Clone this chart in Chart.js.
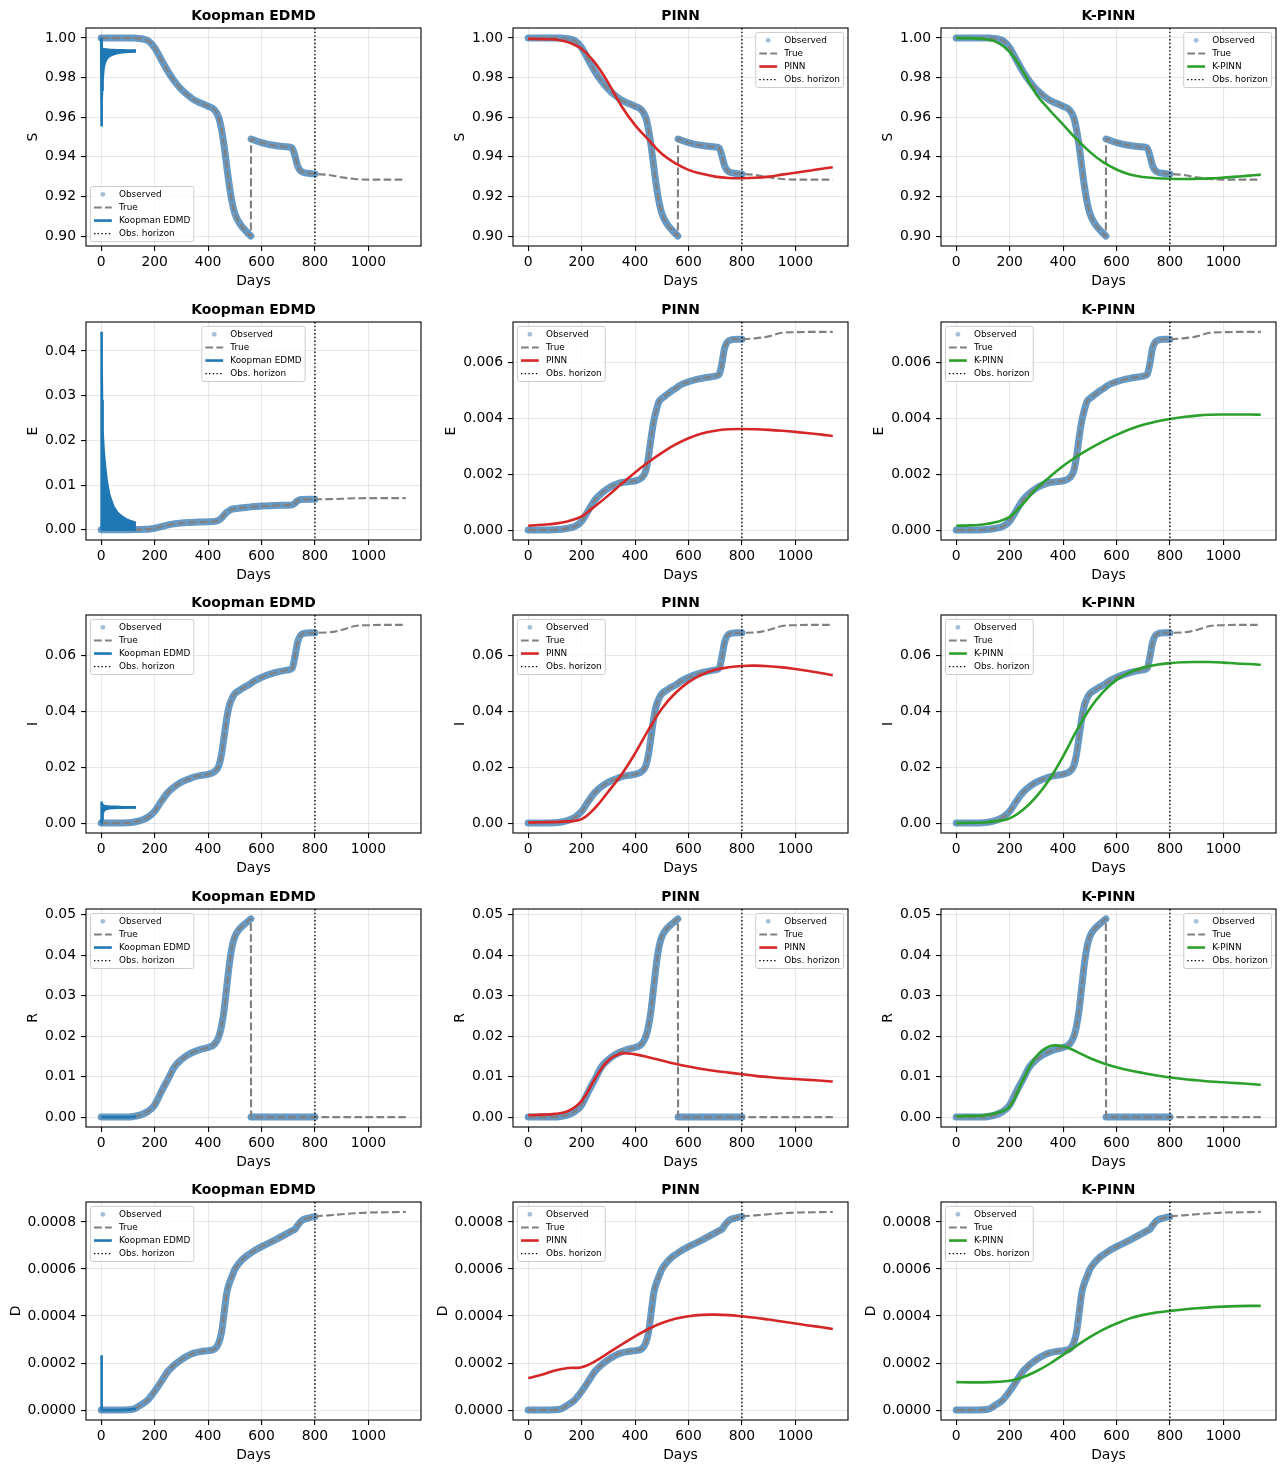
<!DOCTYPE html>
<html>
<head>
<meta charset="utf-8">
<title>Koopman EDMD / PINN / K-PINN</title>
<script src="https://cdn.jsdelivr.net/npm/chart.js@4.4.1/dist/chart.umd.min.js"></script>
<style>
  html, body { margin: 0; padding: 0; background: #fff; }
  #grid { position: relative; width: 1280px; height: 1465px; overflow: hidden; }
  #grid canvas { position: absolute; }
</style>
</head>
<body>
<div id="grid"></div>
<script>
// ---------- data ----------
const OBS_HORIZON = 800;
const RESTART_DAY = 561;          // S and R jump back at this day
const RESTART_VARS = ['S', 'R'];

const DAYS = [0, 50, 100, 125, 150, 175, 200, 225, 250, 275, 300, 325, 350, 375, 400,
  425, 440, 450, 460, 470, 480, 490, 500, 520, 540, 560, 561, 600, 650, 700,
  715, 725, 735, 750, 780, 800, 850, 900, 950, 1000, 1050, 1100, 1140];

const S_TRUE = [1.0000, 1.0000, 1.0000, 0.9999, 0.9996, 0.9986, 0.9950, 0.9890, 0.9830, 0.9780,
  0.9740, 0.9710, 0.9685, 0.9670, 0.9655, 0.9635, 0.9598, 0.9540, 0.9455, 0.9350,
  0.9250, 0.9170, 0.9115, 0.9060, 0.9028, 0.9000, 0.9490, 0.9472, 0.9457, 0.9450,
  0.9444, 0.9405, 0.9355, 0.9325, 0.9316, 0.9313, 0.9309, 0.9297, 0.9288, 0.9285,
  0.9285, 0.9285, 0.9285];
const E_TRUE = [0, 0, 0.00001, 0.00003, 0.00007, 0.00013, 0.00032, 0.00070, 0.00108, 0.00132,
  0.00150, 0.00162, 0.00170, 0.00173, 0.00176, 0.00187, 0.00212, 0.00260, 0.00330, 0.00390,
  0.00430, 0.00460, 0.00470, 0.00485, 0.00499, 0.00512, 0.00513, 0.00530, 0.00542, 0.00550,
  0.00557, 0.00595, 0.00650, 0.00676, 0.00682, 0.00682, 0.00685, 0.00692, 0.00705, 0.00707,
  0.00708, 0.00708, 0.00708];
const I_TRUE = [0, 0, 0.0001, 0.0004, 0.0010, 0.0021, 0.0042, 0.0078, 0.0110, 0.0131,
  0.0147, 0.0157, 0.0166, 0.0171, 0.0175, 0.0185, 0.0205, 0.0245, 0.0310, 0.0376,
  0.0423, 0.0447, 0.0463, 0.0477, 0.0489, 0.0500, 0.0501, 0.0522, 0.0539, 0.0549,
  0.0555, 0.0596, 0.0647, 0.0676, 0.0682, 0.0682, 0.0683, 0.0692, 0.0706, 0.0709,
  0.0710, 0.0710, 0.0710];
const R_TRUE = [0, 0, 0, 0.0002, 0.0006, 0.0014, 0.0030, 0.0063, 0.0094, 0.0125,
  0.0142, 0.0154, 0.0162, 0.0168, 0.0172, 0.0181, 0.0199, 0.0224, 0.0265, 0.0323,
  0.0380, 0.0422, 0.0446, 0.0467, 0.0479, 0.0490, 0, 0, 0, 0,
  0, 0, 0, 0, 0, 0, 0, 0, 0, 0,
  0, 0, 0];
const D_TRUE = [0, 0, 0.000001, 0.000006, 0.000023, 0.000044, 0.000080, 0.000122, 0.000165, 0.000193,
  0.000215, 0.000232, 0.000243, 0.000249, 0.000253, 0.000260, 0.000286, 0.000328, 0.000413, 0.000499,
  0.000541, 0.000570, 0.000598, 0.000630, 0.000652, 0.000668, 0.000669, 0.000695, 0.000723, 0.000754,
  0.000763, 0.000769, 0.000785, 0.000805, 0.000818, 0.000823, 0.000828, 0.000833, 0.000837, 0.000840,
  0.000841, 0.000842, 0.000843];

const MODEL_DAYS = [0, 50, 100, 150, 200, 250, 300, 350, 400, 450, 500, 550, 600, 650, 700,
  750, 800, 850, 900, 950, 1000, 1050, 1100, 1140];

const PINN_S = [0.9995, 0.9994, 0.9992, 0.9978, 0.9944, 0.9874, 0.9772, 0.9654, 0.9560, 0.9486, 0.9415, 0.9368,
  0.9334, 0.9314, 0.9300, 0.9293, 0.9292, 0.9294, 0.9300, 0.9310, 0.9320, 0.9330, 0.9340, 0.9347];
const KPINN_S = [1.0000, 0.9998, 0.9995, 0.9980, 0.9930, 0.9830, 0.9715, 0.9635, 0.9563, 0.9490, 0.9425, 0.9373,
  0.9336, 0.9311, 0.9298, 0.9292, 0.9289, 0.9288, 0.9289, 0.9291, 0.9295, 0.9300, 0.9305, 0.9310];
const PINN_E = [0.000155, 0.00019, 0.00023, 0.00032, 0.00049, 0.00085, 0.00124, 0.00166, 0.00206, 0.00243, 0.00276, 0.00305,
  0.00328, 0.00345, 0.00355, 0.00360, 0.00361, 0.00360, 0.00358, 0.00355, 0.00351, 0.00346, 0.00341, 0.00336];
const KPINN_E = [0.000155, 0.00017, 0.00020, 0.00029, 0.00047, 0.00094, 0.00148, 0.00190, 0.00229, 0.00262, 0.00291, 0.00317,
  0.00340, 0.00360, 0.00376, 0.00388, 0.00397, 0.00404, 0.00409, 0.00412, 0.00413, 0.00413, 0.00413, 0.00412];
const PINN_I = [0.0002, 0.0003, 0.0004, 0.0006, 0.0014, 0.0054, 0.0113, 0.0175, 0.0250, 0.0334, 0.0410, 0.0465,
  0.0505, 0.0532, 0.0549, 0.0558, 0.0563, 0.0564, 0.0562, 0.0558, 0.0552, 0.0545, 0.0537, 0.0530];
const KPINN_I = [0.0000, 0.0001, 0.0002, 0.0007, 0.0017, 0.0048, 0.0095, 0.0158, 0.0239, 0.0330, 0.0410, 0.0470,
  0.0513, 0.0540, 0.0557, 0.0567, 0.0573, 0.0576, 0.0577, 0.0577, 0.0575, 0.0572, 0.0570, 0.0567];
const PINN_R = [0.0005, 0.0006, 0.0008, 0.0015, 0.0040, 0.0095, 0.0140, 0.0157, 0.0155, 0.0148, 0.0140, 0.0132,
  0.0125, 0.0119, 0.0114, 0.0110, 0.0106, 0.0102, 0.0099, 0.0096, 0.0094, 0.0092, 0.0090, 0.0088];
const KPINN_R = [0.0002, 0.0003, 0.0004, 0.0010, 0.0026, 0.0092, 0.0150, 0.0175, 0.0175, 0.0162, 0.0146, 0.0133,
  0.0123, 0.0115, 0.0109, 0.0103, 0.0098, 0.0094, 0.0091, 0.0088, 0.0086, 0.0084, 0.0082, 0.0080];
const PINN_D = [0.000136, 0.000150, 0.000168, 0.000179, 0.000182, 0.000207, 0.000243, 0.000279, 0.000314, 0.000345, 0.000370, 0.000388,
  0.000399, 0.000405, 0.000406, 0.000404, 0.000399, 0.000393, 0.000385, 0.000377, 0.000368, 0.000360, 0.000352, 0.000345];
const KPINN_D = [0.000119, 0.000118, 0.000118, 0.000120, 0.000125, 0.000140, 0.000165, 0.000197, 0.000235, 0.000273, 0.000310, 0.000342,
  0.000368, 0.000390, 0.000405, 0.000415, 0.000422, 0.000428, 0.000433, 0.000437, 0.000440, 0.000442, 0.000443, 0.000443];

// Koopman EDMD oscillates fast over the first days: drawn as lower / upper envelope
const KOOP_DAYS = [0, 1, 2, 3, 5, 8, 12, 20, 30, 45, 60, 80, 100, 130];
const KOOP_S_UP = [1.0000, 0.9995, 0.9960, 0.9946, 0.9944, 0.9943, 0.9942, 0.9941, 0.9940, 0.9939, 0.9938, 0.9937, 0.9936, 0.9936];
const KOOP_S_LO = [1.0000, 0.9553, 0.9680, 0.9740, 0.9790, 0.9840, 0.9870, 0.9895, 0.9908, 0.9918, 0.9924, 0.9928, 0.9930, 0.9932];
const KOOP_E_UP = [0, 0.0443, 0.0360, 0.0290, 0.0220, 0.0185, 0.0155, 0.0110, 0.0078, 0.0052, 0.0038, 0.0028, 0.0021, 0.0015];
const KOOP_E_LO = [0, 0, 0, 0, 0, 0, 0, 0, 0, 0, 0, 0, 0, 0];
const KOOP_I_UP = [0, 0.0077, 0.0072, 0.0068, 0.0065, 0.0063, 0.0061, 0.0060, 0.0059, 0.0058, 0.0058, 0.0057, 0.0057, 0.0057];
const KOOP_I_LO = [0, 0, 0.0005, 0.0015, 0.0032, 0.0042, 0.0047, 0.0051, 0.0053, 0.0054, 0.0055, 0.0055, 0.0056, 0.0056];
const KOOP_R = [0, 0, 0, 0, 0, 0, 0, 0, 0, 0, 0, 0, 0, 0.0001];
const KOOP_D = [0, 0.000233, 0.000002, 0.000001, 0, 0, 0, 0, 0, 0, 0, 0.000001, 0.000002, 0.000006];

// axes
const X_LIMITS = [-57, 1197];
const X_TICKS = [0, 200, 400, 600, 800, 1000];
const S_TICKS = [0.90, 0.92, 0.94, 0.96, 0.98, 1.00];
const E_TICKS_KOOP = [0, 0.01, 0.02, 0.03, 0.04];
const E_TICKS = [0, 0.002, 0.004, 0.006];
const I_TICKS = [0, 0.02, 0.04, 0.06];
const R_TICKS = [0, 0.01, 0.02, 0.03, 0.04, 0.05];
const D_TICKS = [0, 0.0002, 0.0004, 0.0006, 0.0008];

const VARS = ['S', 'E', 'I', 'R', 'D'];
const METHODS = ['Koopman EDMD', 'PINN', 'K-PINN'];
const METHOD_COLORS = ['#1f77b4', '#d62728', '#2ca02c'];

const LEGEND_LOC = [
  ['lower left', 'upper right', 'upper right'],
  ['upper center', 'upper left', 'upper left'],
  ['upper left', 'upper left', 'upper left'],
  ['upper left', 'upper right', 'upper right'],
  ['upper left', 'upper left', 'upper left']
];

// ---------- lookup tables ----------
const TRUE_SERIES = { S: S_TRUE, E: E_TRUE, I: I_TRUE, R: R_TRUE, D: D_TRUE };
const MODEL_SERIES = [
  null,
  { S: PINN_S, E: PINN_E, I: PINN_I, R: PINN_R, D: PINN_D },
  { S: KPINN_S, E: KPINN_E, I: KPINN_I, R: KPINN_R, D: KPINN_D }
];
const KOOP_LOWER = { S: KOOP_S_LO, E: KOOP_E_LO, I: KOOP_I_LO, R: KOOP_R, D: KOOP_D };
const KOOP_UPPER = { S: KOOP_S_UP, E: KOOP_E_UP, I: KOOP_I_UP };

const Y_AXIS = {
  S: { lim: [0.895, 1.005], ticks: S_TICKS, dec: 2 },
  E: { lim: [-0.000354, 0.007434], ticks: E_TICKS, dec: 3 },
  I: { lim: [-0.00355, 0.07455], ticks: I_TICKS, dec: 2 },
  R: { lim: [-0.00245, 0.05145], ticks: R_TICKS, dec: 2 },
  D: { lim: [-0.0000422, 0.000885], ticks: D_TICKS, dec: 4 }
};
const E_AXIS_KOOP = { lim: [-0.0023, 0.0465], ticks: E_TICKS_KOOP, dec: 2 };

// ---------- style ----------
const FONT = 'DejaVu Sans';
const FS = 13.9;           // 10pt
const LEG_FS = 8.9;
const OBS_COLOR = 'rgba(70,130,180,0.82)';
const OBS_MARKER = 'rgba(70,130,180,0.5)';
const TRUE_COLOR = '#808080';
const GRID_COLOR = 'rgba(176,176,176,0.3)';

const CANVAS_W = 425, CANVAS_H = 292;
const AXIS_LEFT = 86, AXIS_BOTTOM = 46;
const COL_LEFT = [0, 427, 855];
const ROW_TOP = [0, 294, 587, 881, 1174];

Chart.defaults.font.family = FONT;
Chart.defaults.color = '#000';

const measureCtx = document.createElement('canvas').getContext('2d');
measureCtx.font = FS + 'px "' + FONT + '"';

function zip(xs, ys) {
  return xs.map((x, i) => ({ x: x, y: ys[i] }));
}

// observed = true values up to the horizon, broken where the series restarts
function observedPoints(v) {
  const pts = [];
  DAYS.forEach((d, i) => {
    if (d > OBS_HORIZON) return;
    if (d === RESTART_DAY && RESTART_VARS.includes(v)) pts.push({ x: d - 0.5, y: null });
    pts.push({ x: d, y: TRUE_SERIES[v][i] });
  });
  return pts;
}

function drawLegend(ctx, a, loc, items) {
  const fs = LEG_FS;
  ctx.font = fs + 'px "' + FONT + '"';
  const pad = 0.4 * fs, hl = 2 * fs, tp = 0.8 * fs, gap = 0.5 * fs, th = 8.65;
  const rowH = th + gap;
  const tw = Math.max(...items.map(it => ctx.measureText(it.label).width));
  const w = 2 * pad + hl + tp + tw;
  const h = 2 * pad + items.length * rowH - gap;
  const m = 0.5 * fs;
  let x, y;
  if (loc.indexOf('left') >= 0) x = a.left + m;
  else if (loc.indexOf('right') >= 0) x = a.right - m - w;
  else x = (a.left + a.right) / 2 - w / 2;
  if (loc.indexOf('upper') >= 0) y = a.top + m;
  else y = a.bottom - m - h;

  ctx.beginPath();
  if (ctx.roundRect) ctx.roundRect(x, y, w, h, 2); else ctx.rect(x, y, w, h);
  ctx.fillStyle = 'rgba(255,255,255,0.8)';
  ctx.fill();
  ctx.lineWidth = 1;
  ctx.strokeStyle = '#cccccc';
  ctx.stroke();

  items.forEach((it, i) => {
    const cy = y + pad + th / 2 + i * rowH;
    const hx = x + pad;
    if (it.marker) {
      ctx.beginPath();
      ctx.arc(hx + hl / 2, cy, 2.4, 0, Math.PI * 2);
      ctx.fillStyle = it.color;
      ctx.fill();
    } else {
      ctx.beginPath();
      ctx.setLineDash(it.dash || []);
      ctx.lineWidth = it.width;
      ctx.strokeStyle = it.color;
      ctx.moveTo(hx, cy);
      ctx.lineTo(hx + hl, cy);
      ctx.stroke();
      ctx.setLineDash([]);
    }
    ctx.fillStyle = '#000';
    ctx.textBaseline = 'middle';
    ctx.textAlign = 'left';
    ctx.fillText(it.label, hx + hl + tp, cy);
  });
}

// horizon line, legend and full frame, drawn over the data
function makeOverlay(loc, items) {
  return {
    id: 'overlay',
    afterDatasetsDraw(chart) {
      const { ctx, chartArea: a } = chart;
      ctx.save();
      const hx = chart.scales.x.getPixelForValue(OBS_HORIZON);
      ctx.beginPath();
      ctx.setLineDash([1.4, 2.3]);
      ctx.lineWidth = 1.4;
      ctx.strokeStyle = '#000';
      ctx.moveTo(hx, a.top);
      ctx.lineTo(hx, a.bottom);
      ctx.stroke();
      ctx.setLineDash([]);
      drawLegend(ctx, a, loc, items);
      ctx.lineWidth = 1.1;
      ctx.strokeStyle = '#000';
      ctx.strokeRect(a.left, a.top, a.right - a.left, a.bottom - a.top);
      ctx.restore();
    }
  };
}

function buildDatasets(v, m) {
  const color = METHOD_COLORS[m];
  const ds = [
    {
      label: 'Observed', data: observedPoints(v), borderColor: OBS_COLOR, borderWidth: 7,
      borderCapStyle: 'round', borderJoinStyle: 'round', cubicInterpolationMode: 'monotone',
      pointRadius: 0, fill: false, order: 4
    },
    {
      label: 'True', data: zip(DAYS, TRUE_SERIES[v]), borderColor: TRUE_COLOR, borderWidth: 2.1,
      borderDash: [7.7, 3.3], cubicInterpolationMode: 'monotone', pointRadius: 0, fill: false, order: 3
    }
  ];
  if (m === 0) {
    ds.push({
      label: METHODS[0], data: zip(KOOP_DAYS, KOOP_LOWER[v]), borderColor: color, borderWidth: 2.6,
      tension: 0, pointRadius: 0, fill: false, order: 2
    });
    if (KOOP_UPPER[v]) {
      ds.push({
        label: METHODS[0] + ' band', data: zip(KOOP_DAYS, KOOP_UPPER[v]), borderColor: color,
        backgroundColor: color, borderWidth: 2.6, tension: 0, pointRadius: 0, fill: '-1', order: 1
      });
    }
  } else {
    ds.push({
      label: METHODS[m], data: zip(MODEL_DAYS, MODEL_SERIES[m][v]), borderColor: color, borderWidth: 2.6,
      tension: 0.4, pointRadius: 0, fill: false, order: 1
    });
  }
  return ds;
}

const gridEl = document.getElementById('grid');

VARS.forEach((v, r) => {
  METHODS.forEach((name, m) => {
    const canvas = document.createElement('canvas');
    canvas.width = CANVAS_W;
    canvas.height = CANVAS_H;
    canvas.style.width = CANVAS_W + 'px';
    canvas.style.height = CANVAS_H + 'px';
    canvas.style.left = COL_LEFT[m] + 'px';
    canvas.style.top = ROW_TOP[r] + 'px';
    gridEl.appendChild(canvas);

    const yAxis = (v === 'E' && m === 0) ? E_AXIS_KOOP : Y_AXIS[v];
    const labels = yAxis.ticks.map(t => t.toFixed(yAxis.dec));
    const labW = Math.max(...labels.map(t => measureCtx.measureText(t).width));
    const yTitleCenter = AXIS_LEFT - 10 - labW - 11.5;

    const legendItems = [
      { label: 'Observed', marker: true, color: OBS_MARKER },
      { label: 'True', color: TRUE_COLOR, width: 2.1, dash: [7.7, 3.3] },
      { label: name, color: METHOD_COLORS[m], width: 2.6 },
      { label: 'Obs. horizon', color: '#000', width: 1.4, dash: [1.4, 2.3] }
    ];

    new Chart(canvas, {
      type: 'line',
      data: { datasets: buildDatasets(v, m) },
      options: {
        responsive: false,
        animation: false,
        devicePixelRatio: 1,
        events: [],
        layout: { padding: { left: 0, right: 4, top: 0, bottom: 0 } },
        plugins: {
          legend: { display: false },
          tooltip: { enabled: false },
          title: {
            display: true, text: name, fullSize: false, color: '#000',
            font: { size: FS, weight: 'bold' }, padding: { top: 8, bottom: 3.32 }
          }
        },
        scales: {
          x: {
            type: 'linear', min: X_LIMITS[0], max: X_LIMITS[1],
            afterBuildTicks: s => { s.ticks = X_TICKS.map(t => ({ value: t })); },
            afterFit: s => { s.height = AXIS_BOTTOM; },
            ticks: { font: { size: FS }, color: '#000', padding: 3, autoSkip: false, maxRotation: 0,
              callback: val => String(val) },
            grid: { color: GRID_COLOR, lineWidth: 1.1, tickColor: '#000', tickLength: 5, tickWidth: 1.1 },
            border: { display: false },
            title: { display: true, text: 'Days', color: '#000', font: { size: FS },
              padding: { top: 0, bottom: 1.8 } }
          },
          y: {
            type: 'linear', min: yAxis.lim[0], max: yAxis.lim[1],
            afterBuildTicks: s => { s.ticks = yAxis.ticks.map(t => ({ value: t })); },
            afterFit: s => { s.width = AXIS_LEFT; },
            ticks: { font: { size: FS }, color: '#000', padding: 5, autoSkip: false,
              callback: val => Number(val).toFixed(yAxis.dec) },
            grid: { color: GRID_COLOR, lineWidth: 1.1, tickColor: '#000', tickLength: 5, tickWidth: 1.1 },
            border: { display: false },
            title: { display: true, text: v, color: '#000', font: { size: FS },
              padding: { top: yTitleCenter - FS * 1.2 / 2, bottom: 0 } }
          }
        }
      },
      plugins: [makeOverlay(LEGEND_LOC[r][m], legendItems)]
    });
  });
});
</script>
</body>
</html>
